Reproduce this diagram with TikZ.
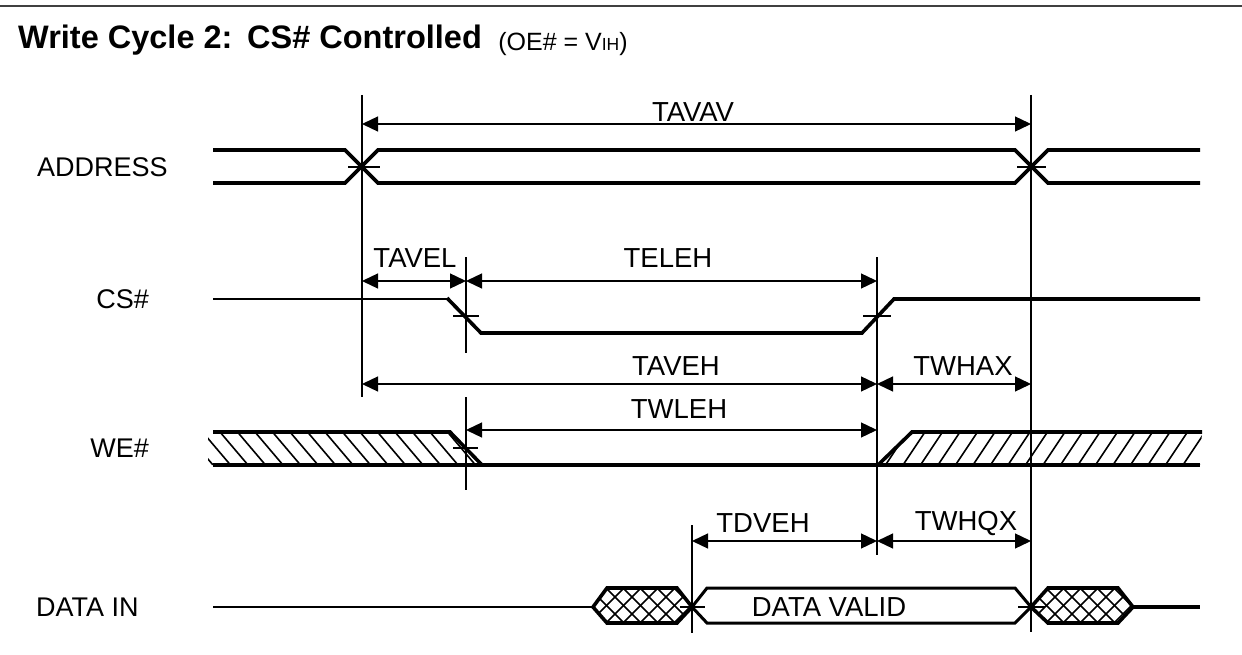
\documentclass[tikz,border=0pt]{standalone}
\usepackage{fontspec}
\setmainfont{Liberation Sans}
\usetikzlibrary{arrows.meta}
\begin{document}
\begin{tikzpicture}[x=1pt,y=-1pt,
  sig/.style={line width=3.6pt, line join=miter, line cap=butt},
  thinsig/.style={line width=2.6pt, line join=miter},
  guide/.style={line width=1.3pt},
  tick/.style={line width=1.2pt},
  hatch/.style={line width=1.6pt},
  dim/.style={line width=1.3pt, {Triangle[length=16pt,width=15pt]}-{Triangle[length=16pt,width=15pt]}},
  lbl/.style={font=\fontsize{27.5}{30}\selectfont, inner sep=0pt},
  sname/.style={font=\fontsize{27}{30}\selectfont, inner sep=0pt}]
\useasboundingbox (0,0) rectangle (1242,655);
% top rule
\draw[line width=2pt, black!75] (0,6) -- (1242,6);
% title
\node[anchor=base west, inner sep=0pt, font=\bfseries\fontsize{32.5}{36}\selectfont] (title) at (18,49) {Write Cycle 2:\hspace{0.45em}CS\# Controlled};
\node[anchor=base west, inner sep=0pt, font=\fontsize{25}{28}\selectfont] (sub) at (title.base east) [xshift=16pt, yshift=-2pt] {(OE\# = V{\fontsize{17.5}{20}\selectfont IH})};
% signal names
\node[sname, anchor=west] (nADDR) at (37,167) {ADDRESS};
\node[sname, anchor=east] (nCS) at (149,299) {CS\#};
\node[sname, anchor=east] (nWE) at (149,448) {WE\#};
\node[sname, anchor=west] (nDATA) at (36,607) {DATA IN};
% guide coordinates
\coordinate (g1t) at (362,95);  \coordinate (g1b) at (362,397);
\coordinate (g2t) at (466,257); \coordinate (g2b) at (466,353);
\coordinate (g2t') at (466,397); \coordinate (g2b') at (466,490);
\coordinate (g3t) at (877,257); \coordinate (g3b) at (877,555);
\coordinate (g4t) at (1031,95); \coordinate (g4b) at (1031,632);
\coordinate (g5t) at (692,525); \coordinate (g5b) at (692,633);
\draw[guide] (g1t) -- (g1b);
\draw[guide] (g2t) -- (g2b);
\draw[guide] (g2t') -- (g2b');
\draw[guide] (g3t) -- (g3b);
\draw[guide] (g4t) -- (g4b);
\draw[guide] (g5t) -- (g5b);
% ADDRESS
\draw[sig] (213,150) -- (345,150) -- (378,183) -- (1015,183) -- (1048,150) -- (1200,150);
\draw[sig] (213,183) -- (345,183) -- (378,150) -- (1015,150) -- (1048,183) -- (1200,183);
\draw[tick] (348,167) -- (380,167);
\draw[tick] (1017,167) -- (1046,167);
% CS#
\draw[thinsig] (213,299) -- (448,299);
\draw[sig] (447,298) -- (481,333) -- (862,333) -- (894,299) -- (1200,299);
\draw[tick] (453,316) -- (479,316);
\draw[tick] (863,316) -- (891,316);
% WE#
\begin{scope}
  \clip (208,432) -- (450,432) -- (482,465) -- (208,465) -- cycle;
  \foreach \x in {185,202.5,...,480} \draw[hatch] (\x,432) -- (\x+28,465);
\end{scope}
\begin{scope}
  \clip (878,465) -- (912,432) -- (1202,432) -- (1200,465) -- cycle;
  \foreach \x in {890,907.5,...,1230} \draw[hatch] (\x,432) -- (\x-22,465);
\end{scope}
\draw[sig] (213,432) -- (450,432) -- (482,465);
\draw[sig] (213,465) -- (1200,465);
\draw[sig] (878,465) -- (912,432) -- (1202,432);
\draw[tick] (453,448) -- (478,448);
% DATA IN
\draw[thinsig] (213,607) -- (593,607);
\begin{scope}
  \clip (593,607) -- (607,588) -- (677,588) -- (692,607) -- (677,623) -- (607,623) -- cycle;
  \foreach \x in {555,572,...,700} {\draw[hatch] (\x,588) -- (\x+35,623); \draw[hatch] (\x,623) -- (\x+35,588);}
\end{scope}
\draw[sig] (593,607) -- (607,588) -- (677,588) -- (692,607) -- (677,623) -- (607,623) -- cycle;
\draw[line width=3pt, line join=miter] (692,607) -- (707,588) -- (1015,588) -- (1031,607) -- (1015,623) -- (707,623) -- cycle;
\begin{scope}
  \clip (1031,607) -- (1048,588) -- (1118,588) -- (1133,607) -- (1118,623) -- (1048,623) -- cycle;
  \foreach \x in {995,1012,...,1140} {\draw[hatch] (\x,588) -- (\x+35,623); \draw[hatch] (\x,623) -- (\x+35,588);}
\end{scope}
\draw[sig] (1031,607) -- (1048,588) -- (1118,588) -- (1133,607) -- (1118,623) -- (1048,623) -- cycle;
\draw[line width=4pt] (1133,607) -- (1200,607);
\draw[tick] (680,607) -- (705,607);
\draw[tick] (1018,607) -- (1045,607);
\node[lbl] (lVALID) at (829,607) {DATA VALID};
% dimension arrows
\coordinate (aAVAVl) at (362,124); \coordinate (aAVAVr) at (1031,124);
\coordinate (aAVELl) at (362,281); \coordinate (aAVELr) at (466,281);
\coordinate (aELEHr) at (877,281);
\coordinate (aAVEHl) at (362,384); \coordinate (aAVEHr) at (877,384);
\coordinate (aWHAXr) at (1031,384);
\coordinate (aWLEHl) at (466,430); \coordinate (aWLEHr) at (877,430);
\coordinate (aDVEHl) at (692,541); \coordinate (aDVEHr) at (877,541);
\coordinate (aWHQXr) at (1031,541);
\draw[dim] (aAVAVl) -- (aAVAVr);
\draw[dim] (aAVELl) -- (aAVELr);
\draw[dim] (aAVELr) -- (aELEHr);
\draw[dim] (aAVEHl) -- (aAVEHr);
\draw[dim] (aAVEHr) -- (aWHAXr);
\draw[dim] (aWLEHl) -- (aWLEHr);
\draw[dim] (aDVEHl) -- (aDVEHr);
\draw[dim] (aDVEHr) -- (aWHQXr);
% timing labels
\node[lbl] (tAVAV) at (693,112) {TAVAV};
\node[lbl] (tAVEL) at (415,258) {TAVEL};
\node[lbl] (tELEH) at (668,258) {TELEH};
\node[lbl] (tAVEH) at (676,366) {TAVEH};
\node[lbl] (tWHAX) at (963,366) {TWHAX};
\node[lbl] (tWLEH) at (679,409) {TWLEH};
\node[lbl] (tDVEH) at (763,523) {TDVEH};
\node[lbl] (tWHQX) at (966,523) {TWHQX};
\end{tikzpicture}
\end{document}
